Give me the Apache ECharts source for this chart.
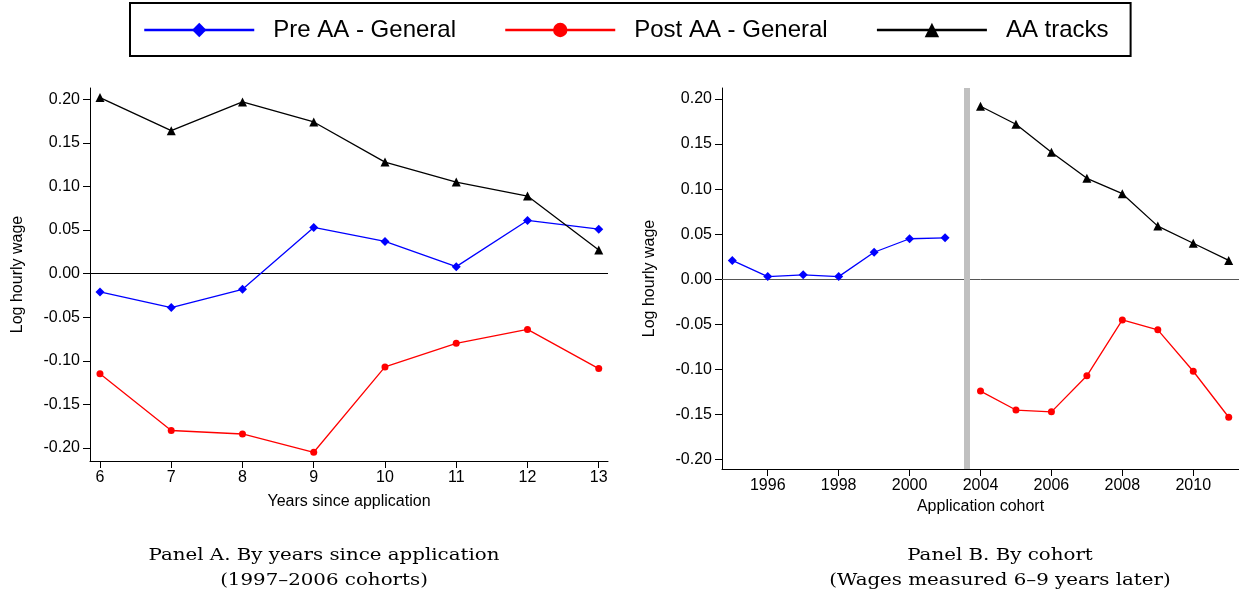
<!DOCTYPE html>
<html>
<head>
<meta charset="utf-8">
<script src="https://cdn.jsdelivr.net/npm/echarts@6/dist/echarts.min.js"></script>
<style>
html, body { margin: 0; padding: 0; background: #fff; }
#chart { width: 1239px; height: 600px; }
</style>
</head>
<body>
<div id="chart"></div>
<script>
// Panel A: years since application
var yearsSince = [6, 7, 8, 9, 10, 11, 12, 13];
var preA   = [-0.021, -0.039, -0.018, 0.053, 0.037, 0.008, 0.061, 0.051];
var postA  = [-0.115, -0.180, -0.184, -0.205, -0.107, -0.080, -0.064, -0.109];
var tracksA = [0.202, 0.164, 0.197, 0.174, 0.128, 0.105, 0.089, 0.027];

// Panel B: application cohort (axis is broken between 2001 and 2004)
var preCohorts = [1995, 1996, 1997, 1998, 1999, 2000, 2001];
var postCohorts = [2004, 2005, 2006, 2007, 2008, 2009, 2010, 2011];
var preB    = [0.021, 0.003, 0.005, 0.003, 0.030, 0.045, 0.046];
var postB   = [-0.124, -0.145, -0.147, -0.107, -0.045, -0.056, -0.102, -0.153];
var tracksB = [0.192, 0.172, 0.141, 0.112, 0.095, 0.059, 0.040, 0.021];

var cohortLabels = [1996, 1998, 2000, 2004, 2006, 2008, 2010];
var yTicks = [-0.20, -0.15, -0.10, -0.05, 0.00, 0.05, 0.10, 0.15, 0.20];

var cohortAxis = preCohorts.concat(postCohorts);
var pairs = function (xs, ys) {
    var res = [];
    for (var i = 0; i < xs.length; i++) res.push([xs[i], ys[i]]);
    return res;
};
var cohortPairs = function (years, ys) {
    var res = [];
    for (var i = 0; i < years.length; i++) res.push([cohortAxis.indexOf(years[i]), ys[i]]);
    return res;
};
var cohortPos = cohortLabels.map(function (y) { return cohortAxis.indexOf(y); });

var font = 'Liberation Sans, Arial, sans-serif';
var BLUE = '#0000ff', RED = '#ff0000', BLACK = '#000000';

var myChart = echarts.init(document.getElementById('chart'));

var yAxisBase = function (idx, min, max) {
    return {
        type: 'value', gridIndex: idx, min: min, max: max,
        name: 'Log hourly wage', nameLocation: 'middle', nameGap: 64, nameRotate: 90,
        nameTextStyle: { fontFamily: font, fontSize: 16, color: '#000' },
        axisLine: { show: true, onZero: false, lineStyle: { color: '#000', width: 1 } },
        axisTick: { show: true, length: 7, customValues: yTicks, lineStyle: { color: '#000', width: 1 } },
        axisLabel: { customValues: yTicks, fontFamily: font, fontSize: 16, color: '#000', margin: 10,
            formatter: function (v) { return v.toFixed(2); } },
        splitLine: { show: false }
    };
};

var lineSeries = function (name, data, color, symbol, size, xi, extra) {
    var s = {
        name: name, type: 'line', xAxisIndex: xi, yAxisIndex: xi, data: data,
        symbol: symbol, symbolSize: size, showSymbol: true,
        lineStyle: { color: color, width: 1.3 },
        itemStyle: { color: color },
        z: 5, silent: true, animation: false
    };
    if (extra) s.markLine = extra;
    return s;
};

var zeroLine = function (color) {
    return {
        silent: true, symbol: 'none', animation: false,
        label: { show: false },
        lineStyle: { color: color, width: 1, type: 'solid' },
        data: [{ yAxis: 0 }]
    };
};

option = {
    backgroundColor: '#fff',
    animation: false,
    legend: {
        left: 130, top: 3,
        padding: [15, 22, 14, 13],
        borderColor: '#000', borderWidth: 2,
        itemWidth: 110, itemHeight: 18, itemGap: 48,
        lineStyle: { width: 2.5 },
        textStyle: { fontFamily: font, fontSize: 24, color: '#000', padding: [0, 0, 0, 14] },
        data: ['Pre AA - General', 'Post AA - General', 'AA tracks']
    },
    grid: [
        { left: 90, top: 88, width: 518, height: 373 },
        { left: 722, top: 88, width: 517, height: 381 }
    ],
    xAxis: [
        {
            type: 'value', gridIndex: 0, min: 5.86, max: 13.13,
            name: 'Years since application', nameLocation: 'middle', nameGap: 33,
            nameTextStyle: { fontFamily: font, fontSize: 16, color: '#000' },
            axisLine: { show: true, onZero: false, lineStyle: { color: '#000' } },
            axisTick: { show: true, length: 7, customValues: yearsSince, lineStyle: { color: '#000', width: 1 } },
            axisLabel: { customValues: yearsSince, fontFamily: font, fontSize: 16, color: '#000', margin: 9 },
            splitLine: { show: false }
        },
        {
            type: 'value', gridIndex: 1, min: -0.29, max: 14.29,
            name: 'Application cohort', nameLocation: 'middle', nameGap: 25,
            nameTextStyle: { fontFamily: font, fontSize: 16, color: '#000' },
            axisLine: { show: true, onZero: false, lineStyle: { color: '#000' } },
            axisTick: { show: true, length: 7, customValues: cohortPos, lineStyle: { color: '#000', width: 1 } },
            axisLabel: {
                customValues: cohortPos,
                fontFamily: font, fontSize: 16, color: '#000', margin: 9,
                formatter: function (v) { return String(cohortAxis[Math.round(v)]); }
            },
            splitLine: { show: false }
        }
    ],
    yAxis: [
        yAxisBase(0, -0.215, 0.213),
        yAxisBase(1, -0.2104, 0.2122)
    ],
    graphic: [
        { type: 'text', x: 324, y: 543, scaleX: 1.165, style: { text: 'Panel A. By years since application\n(1997–2006 cohorts)',
            font: '17px "DejaVu Serif", serif', fill: '#000', textAlign: 'center', lineHeight: 25 } },
        { type: 'text', x: 1000, y: 543, scaleX: 1.165, style: { text: 'Panel B. By cohort\n(Wages measured 6–9 years later)',
            font: '17px "DejaVu Serif", serif', fill: '#000', textAlign: 'center', lineHeight: 25 } }
    ],
    series: [
        lineSeries('Pre AA - General', pairs(yearsSince, preA), BLUE, 'diamond', 9, 0, zeroLine('#000')),
        lineSeries('Post AA - General', pairs(yearsSince, postA), RED, 'circle', 7, 0),
        lineSeries('AA tracks', pairs(yearsSince, tracksA), BLACK, 'triangle', 9, 0),
        lineSeries('Pre AA - General', cohortPairs(preCohorts, preB), BLUE, 'diamond', 9, 1, zeroLine('#555')),
        lineSeries('Post AA - General', cohortPairs(postCohorts, postB), RED, 'circle', 7, 1, {
            silent: true, symbol: 'none', animation: false, label: { show: false },
            lineStyle: { color: '#c0c0c0', width: 6, type: 'solid' },
            data: [{ xAxis: 6.6 }]
        }),
        lineSeries('AA tracks', cohortPairs(postCohorts, tracksB), BLACK, 'triangle', 9, 1)
    ]
};
myChart.setOption(option);
</script>
</body>
</html>
